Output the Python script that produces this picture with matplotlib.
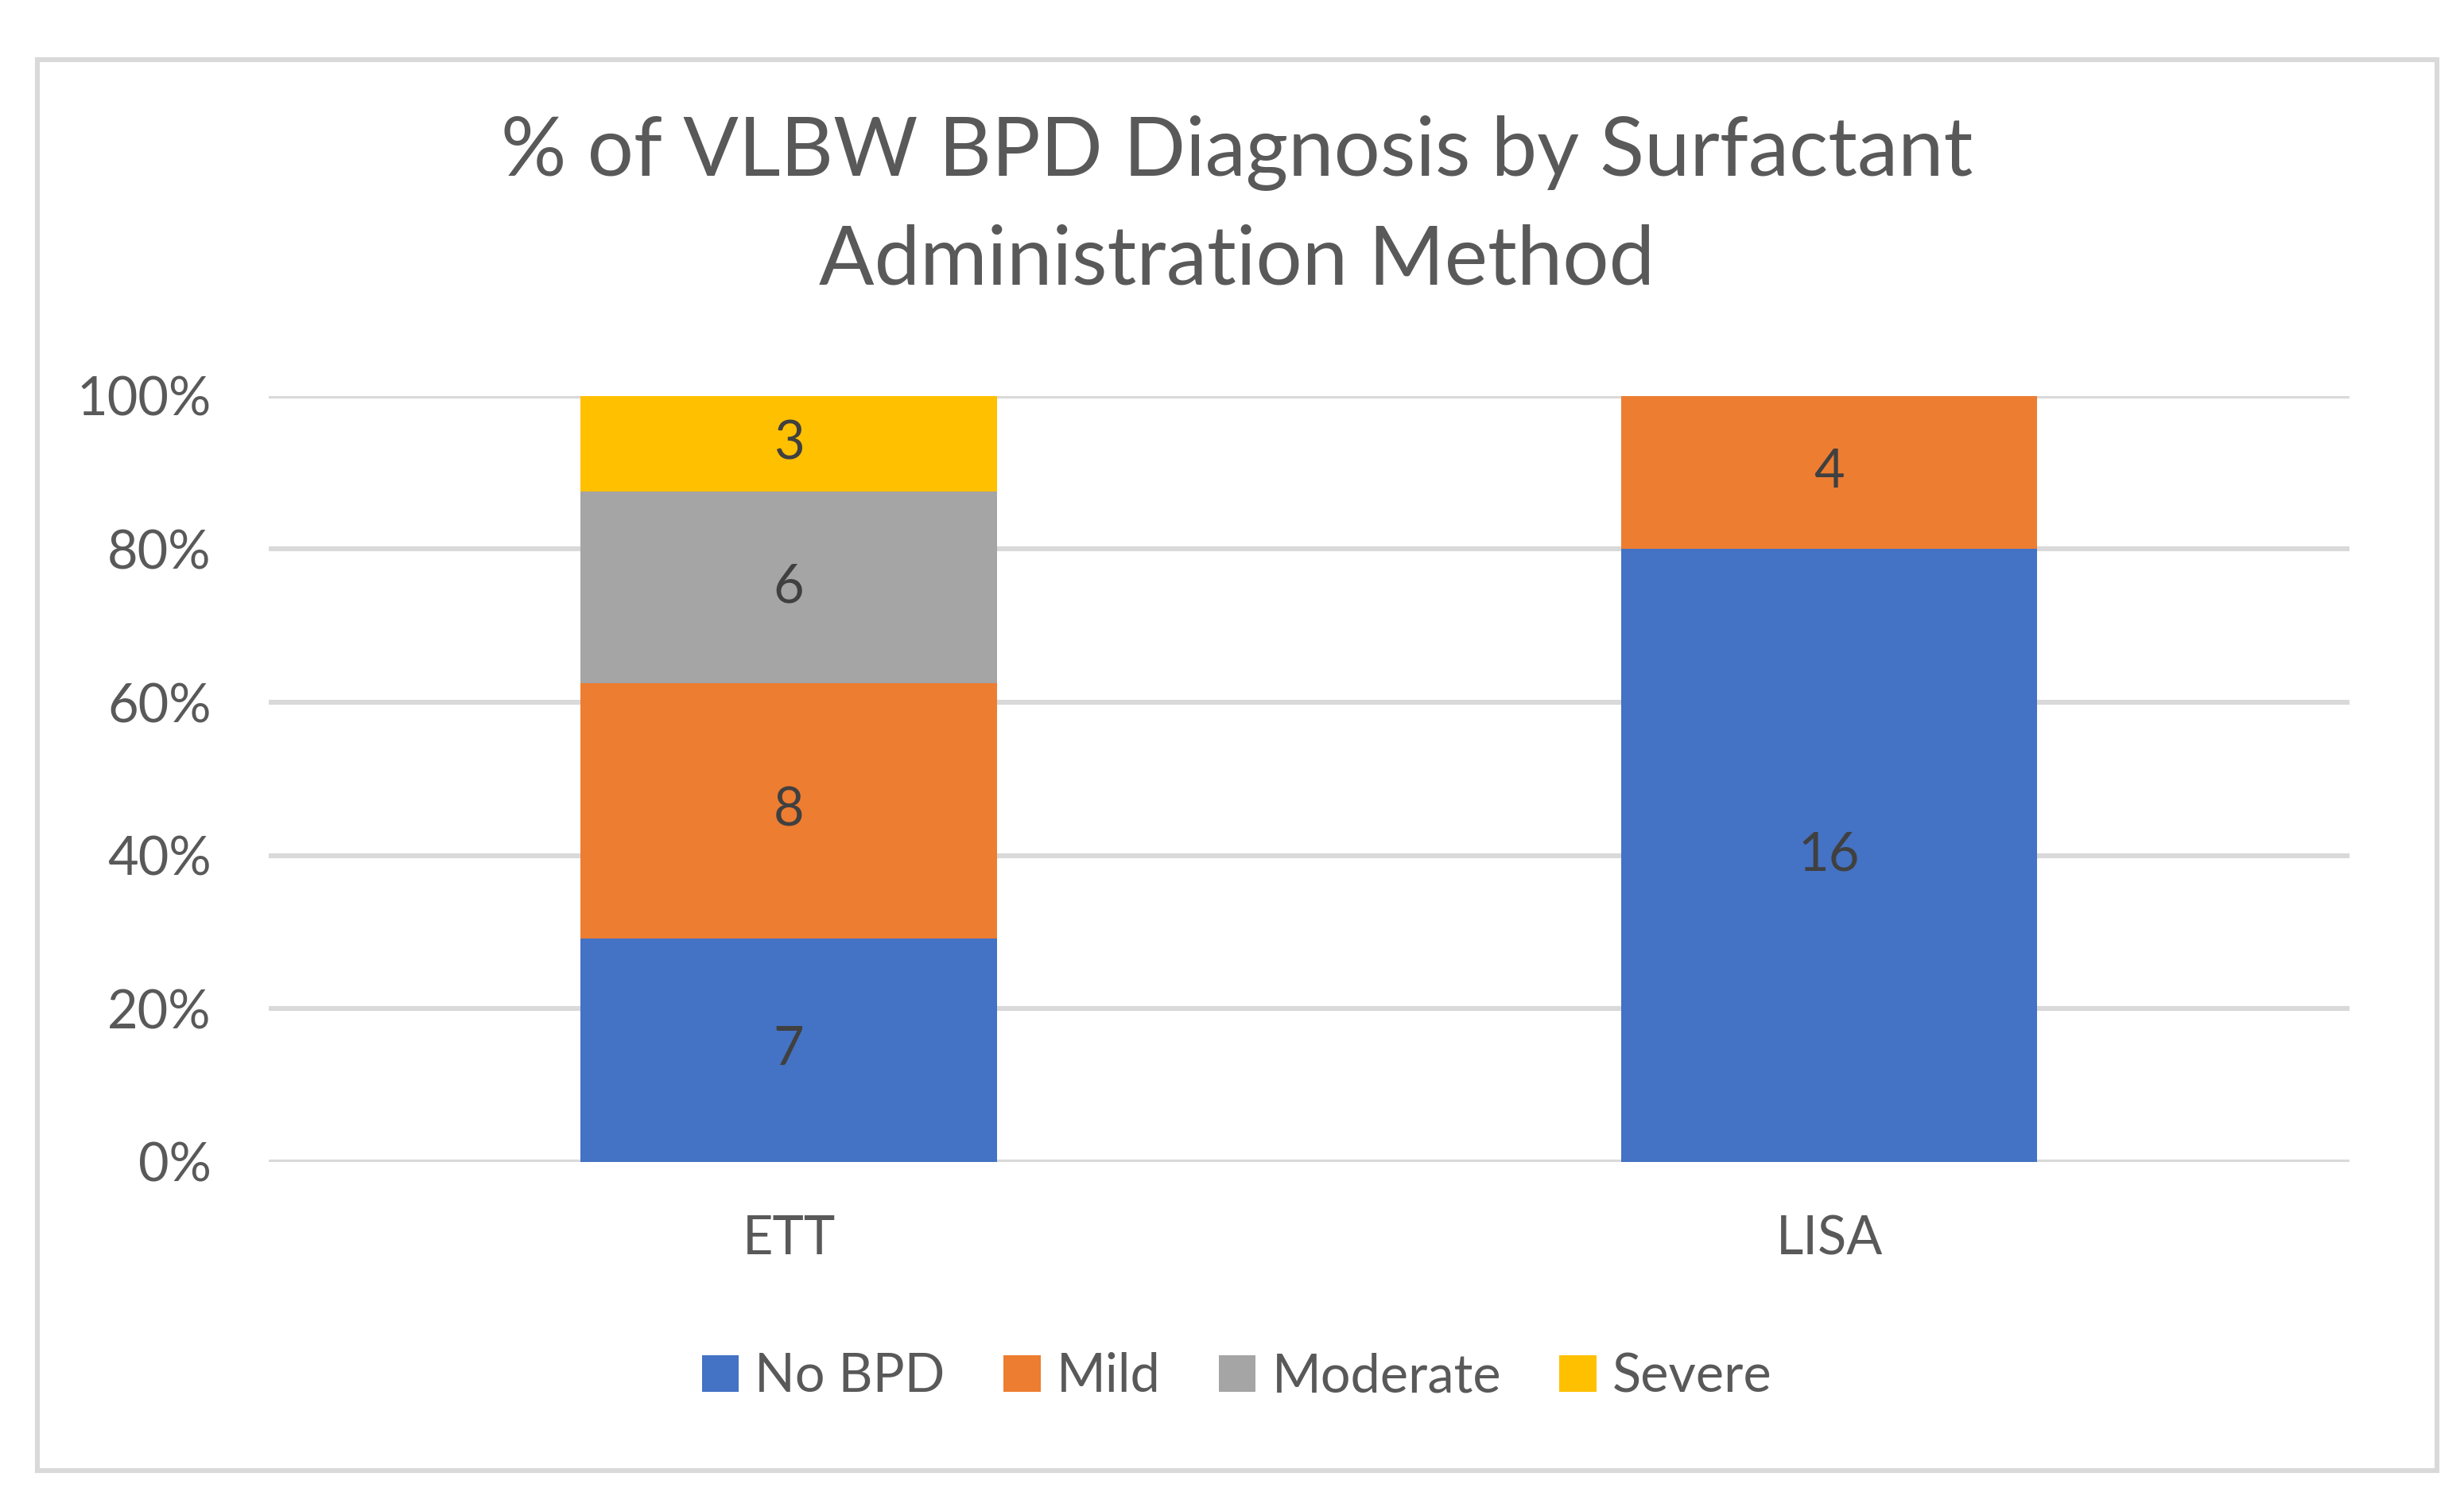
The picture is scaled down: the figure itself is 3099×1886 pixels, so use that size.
import matplotlib.pyplot as plt
from matplotlib.patches import Rectangle
import numpy as np

# Excel-like palette
BLUE = "#4472C4"
ORANGE = "#ED7D31"
GRAY = "#A5A5A5"
GOLD = "#FFC000"
GRID = "#D9D9D9"
TEXT = "#595959"
LABEL = "#404040"

categories = ["ETT", "LISA"]
series_names = ["No BPD", "Mild", "Moderate", "Severe"]
no_bpd = [7, 16]
mild = [8, 4]
moderate = [6, 0]
severe = [3, 0]

plt.rcParams['font.family'] = ['Lato', 'DejaVu Sans']

fig = plt.figure(figsize=(15.495, 9.43), dpi=200, facecolor="white")
ax = fig.add_axes([0.109, 0.2255, 0.8445, 0.5105])

counts = np.array([no_bpd, mild, moderate, severe], dtype=float)
totals = counts.sum(axis=0)
shares = counts / totals * 100
x = np.arange(len(categories))
colors = [BLUE, ORANGE, GRAY, GOLD]

bottom = np.zeros(len(categories))
for name, cnt, pct, col in zip(series_names, counts, shares, colors):
    ax.bar(x, pct, 0.4, bottom=bottom, color=col, label=name, zorder=3)
    for xi, c, p, b in zip(x, cnt, pct, bottom):
        if c > 0:
            ax.text(xi, b + p / 2, f"{int(c)}", ha='center', va='center',
                    fontsize=24, color=LABEL, zorder=4)
    bottom += pct

ax.set_xlim(-0.5, 1.5)
ax.set_ylim(0, 100)
ax.set_yticks(np.arange(0, 101, 20))
ax.set_yticklabels([f"{v}%" for v in range(0, 101, 20)])
ax.set_xticks(x)
ax.set_xticklabels(categories)
ax.tick_params(axis='y', length=0, pad=26, labelsize=24, labelcolor=TEXT)
ax.tick_params(axis='x', length=0, pad=24, labelsize=24, labelcolor=TEXT)
ax.yaxis.grid(True, color=GRID, linewidth=2.2, zorder=0)
ax.set_axisbelow(True)
for s in ax.spines.values():
    s.set_visible(False)

fig.text(0.502, 0.862, "% of VLBW BPD Diagnosis by Surfactant\nAdministration Method",
         ha='center', va='center', fontsize=37, color=TEXT, linespacing=1.55)

fig.legend(loc='center', bbox_to_anchor=(0.502, 0.082), ncol=4, frameon=False,
           fontsize=24, labelcolor=TEXT, handlelength=0.7, handleheight=0.7,
           handletextpad=0.3, columnspacing=1.1)

# chart border
fig.patches.append(Rectangle((0.0152, 0.0195), 0.9738, 0.9405, transform=fig.transFigure,
                             fill=False, edgecolor=GRID, linewidth=2.2))

plt.savefig("out.png", dpi=200, facecolor="white")
